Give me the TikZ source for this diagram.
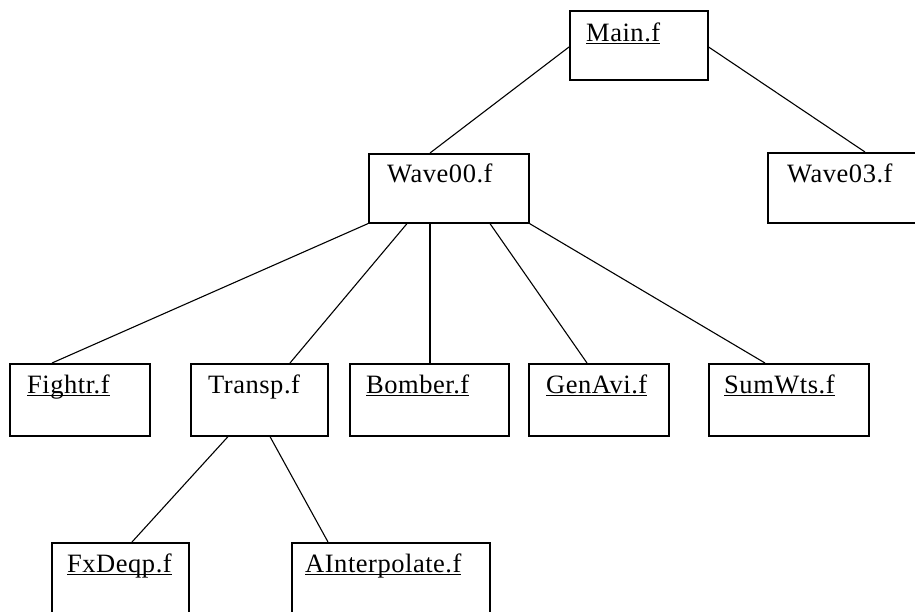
\documentclass[tikz,border=0pt]{standalone}
\usepackage{fontspec}
\setmainfont{Liberation Serif}[LetterSpace=2]
\usetikzlibrary{calc}

% underlined file name (rule sits just below the baseline)
\newcommand\ulname[1]{\setbox0\hbox{#1}\rlap{\rule[-3pt]{\wd0}{1.2pt}}\box0}

\tikzset{
  filebox/.style n args={2}{draw, line width=1.6pt, inner sep=0pt,
    anchor=north west, minimum width=#1, minimum height=#2},
  fname/.style={anchor=base west, inner sep=0pt,
    font=\fontsize{26.5}{30}\selectfont},
  link/.style={line width=1.1pt},
}

\begin{document}
\begin{tikzpicture}[x=1pt, y=-1pt]
  \useasboundingbox (0,0) rectangle (915,611);
  \clip (0,0) rectangle (915,611);
  \fill[white] (0,0) rectangle (915,611);

  % boxes
  \node[filebox={138pt}{69pt}]  (main)   at (569,10)  {};
  \node[filebox={160pt}{69pt}]  (wave00) at (368,153) {};
  \node[filebox={170pt}{70pt}]  (wave03) at (767,152) {};
  \node[filebox={140pt}{72pt}]  (fightr) at (9,363)   {};
  \node[filebox={137pt}{72pt}]  (transp) at (190,363) {};
  \node[filebox={159pt}{72pt}]  (bomber) at (349,363) {};
  \node[filebox={140pt}{72pt}]  (genavi) at (528,363) {};
  \node[filebox={160pt}{72pt}]  (sumwts) at (708,363) {};
  \node[filebox={137pt}{80pt}]  (fxdeqp) at (51,542)  {};
  \node[filebox={198pt}{80pt}]  (ainterp) at (291,542) {};

  % file names
  \node[fname] (main-t)   at ($(main.north west)+(17,31)$)   {\ulname{Main.f}};
  \node[fname] (wave00-t) at ($(wave00.north west)+(19,29)$) {Wave00.f};
  \node[fname] (wave03-t) at ($(wave03.north west)+(20,30)$) {Wave03.f};
  \node[fname] (fightr-t) at ($(fightr.north west)+(18,30)$) {\ulname{Fightr.f}};
  \node[fname] (transp-t) at ($(transp.north west)+(18,30)$) {Transp.f};
  \node[fname] (bomber-t) at ($(bomber.north west)+(17,30)$) {\ulname{Bomber.f}};
  \node[fname] (genavi-t) at ($(genavi.north west)+(18,30)$) {\ulname{GenAvi.f}};
  \node[fname] (sumwts-t) at ($(sumwts.north west)+(16,30)$) {\ulname{SumWts.f}};
  \node[fname] (fxdeqp-t) at ($(fxdeqp.north west)+(16,30)$) {\ulname{FxDeqp.f}};
  \node[fname] (ainterp-t) at ($(ainterp.north west)+(14,30)$) {\ulname{AInterpolate.f}};

  % call tree
  \draw[link] ($(main.north west)+(0,37)$) -- ($(wave00.north west)+(62,0)$);
  \draw[link] ($(main.north east)+(0,37)$) -- ($(wave03.north west)+(98,0)$);

  \draw[link] (wave00.south west) -- ($(fightr.north west)+(43,0)$);
  \draw[link] ($(wave00.south west)+(39,0)$) -- ($(transp.north west)+(100,0)$);
  \draw[link] ($(wave00.south west)+(62,0)$) -- ($(bomber.north west)+(81,0)$);
  \draw[link] ($(wave00.south west)+(122,0)$) -- ($(genavi.north west)+(59,0)$);
  \draw[link] (wave00.south east) -- ($(sumwts.north west)+(57,0)$);

  \draw[link] ($(transp.south west)+(38,0)$) -- ($(fxdeqp.north west)+(81,0)$);
  \draw[link] ($(transp.south west)+(80,0)$) -- ($(ainterp.north west)+(37,0)$);
\end{tikzpicture}
\end{document}
